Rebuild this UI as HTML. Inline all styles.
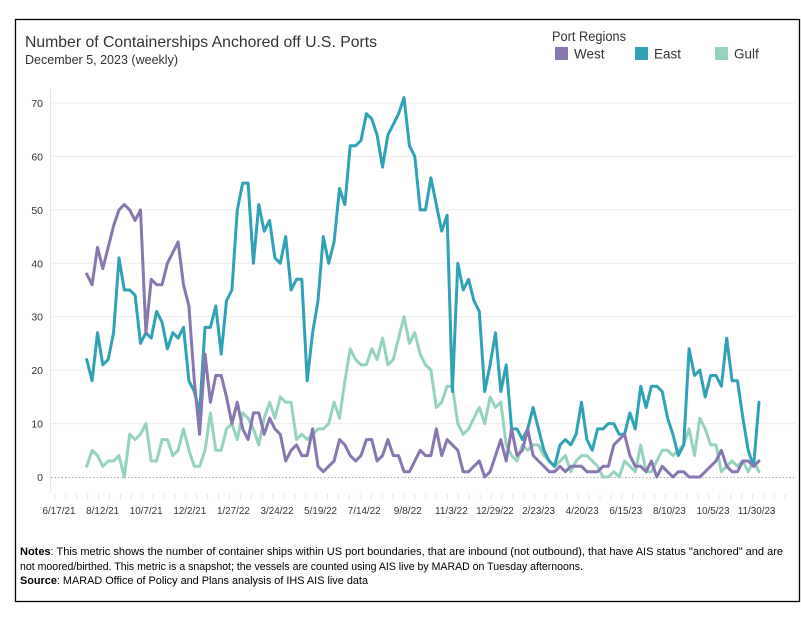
<!DOCTYPE html>
<html><head><meta charset="utf-8"><style>
body{margin:0;background:#fff;width:801px;height:614px;overflow:hidden;font-family:"Liberation Sans",sans-serif;}
svg text{font-family:"Liberation Sans",sans-serif;}
</style></head><body>
<svg id="chart" width="801" height="614">
<rect x="15.5" y="19.5" width="784" height="582" fill="#fff" stroke="#000" stroke-width="1.3"/>
<text x="25" y="47" font-size="16" fill="#333" textLength="352" lengthAdjust="spacingAndGlyphs">Number of Containerships Anchored off U.S. Ports</text>
<text x="25" y="64" font-size="12.5" fill="#333" textLength="153" lengthAdjust="spacingAndGlyphs">December 5, 2023 (weekly)</text>
<text x="552" y="41" font-size="13.5" fill="#333" textLength="74" lengthAdjust="spacingAndGlyphs">Port Regions</text>
<g><rect x="555" y="47" width="13" height="13" fill="#8777b0"/><text x="574" y="58.5" font-size="13.5" fill="#333">West</text></g>
<g><rect x="635" y="47" width="13" height="13" fill="#2fa2b5"/><text x="654" y="58.5" font-size="13.5" fill="#333">East</text></g>
<g><rect x="715" y="47" width="13" height="13" fill="#95d3c0"/><text x="734" y="58.5" font-size="13.5" fill="#333">Gulf</text></g>
<g id="grid"></g>
<g id="yax"></g>
<g id="xax"></g>
<g id="series"></g>
<text x="20" y="555" font-size="11" fill="#000" textLength="763" lengthAdjust="spacingAndGlyphs"><tspan font-weight="bold">Notes</tspan>: This metric shows the number of container ships within US port boundaries, that are inbound (not outbound), that have AIS status "anchored" and are</text>
<text x="20" y="570" font-size="11" fill="#000" textLength="563" lengthAdjust="spacingAndGlyphs">not moored/birthed. This metric is a snapshot; the vessels are counted using AIS live by MARAD on Tuesday afternoons.</text>
<text x="20" y="584" font-size="11" fill="#000" textLength="348" lengthAdjust="spacingAndGlyphs"><tspan font-weight="bold">Source</tspan>: MARAD Office of Policy and Plans analysis of IHS AIS live data</text>
</svg>
<script>
const westValues=[38,36,43,39,43,47,50,51,50,48,50,27,37,36,36,40,42,44,36,32,18,8,23,14,19,19,15,10,14,9,7,
12,12,8,11,9,8,3,5,6,4,4,9,2,1,2,3,7,6,4,3,4,7,7,3,4,7,4,4,1,1,3,5,4,4,9,4,7,
6,5,1,1,2,3,0,1,4,7,3,9,4,5,9,4,3,2,1,1,2,1,2,2,2,1,1,1,2,2,6,7,8,4,2,2,
1,3,0,2,1,0,1,1,0,0,0,1,2,3,5,2,1,1,3,3,2,3];
const eastValues=[22,18,27,21,22,27,41,35,35,34,25,27,26,31,29,24,27,26,28,18,16,12,28,28,32,23,33,35,50,55,55,
40,51,46,48,41,40,45,35,37,37,18,27,33,45,40,44,54,51,62,62,63,68,67,64,58,64,66,68,71,62,60,50,50,56,51,46,49,
16,40,35,37,33,31,16,21,27,16,21,9,9,7,9,13,9,5,3,2,6,7,6,8,14,7,5,9,9,10,10,8,8,12,9,17,
13,17,17,16,11,8,4,6,24,19,20,15,19,19,17,26,18,18,11,5,2,14];
const gulfValues=[2,5,4,2,3,3,4,0,8,7,8,10,3,3,7,7,4,5,9,5,2,2,5,12,5,5,9,10,7,12,11,
9,6,11,14,11,15,14,14,7,8,7,8,9,9,10,14,11,18,24,22,21,21,24,22,26,21,22,26,30,25,27,23,21,20,13,14,17,
17,10,8,9,11,13,10,15,13,14,6,4,3,6,5,6,6,4,3,2,3,4,1,3,4,4,3,2,0,0,1,0,3,2,1,6,
1,1,3,5,5,4,5,6,9,4,11,9,6,6,1,2,3,2,3,1,3,1];
const yTicks=[0,10,20,30,40,50,60,70];
const xTickLabels=["6/17/21","8/12/21","10/7/21","12/2/21","1/27/22","3/24/22","5/19/22","7/14/22","9/8/22","11/3/22","12/29/22","2/23/23","4/20/23","6/15/23","8/10/23","10/5/23","11/30/23"];
const seriesNames=["west","east","gulf"];
const seriesColors=["#8777b0","#2fa2b5","#95d3c0"];

const NS="http://www.w3.org/2000/svg";
const N=eastValues.length;
function xs(i){return 86.7+(759-86.7)*i/(N-1);}
function ys(v){return 477-v*5.343;}
function mk(tag,attrs,parent){const e=document.createElementNS(NS,tag);for(const k in attrs)e.setAttribute(k,attrs[k]);parent.appendChild(e);return e;}
const grid=document.getElementById('grid'),yax=document.getElementById('yax'),xax=document.getElementById('xax'),ser=document.getElementById('series');
mk('line',{x1:50.5,x2:50.5,y1:88,y2:492,stroke:'#e6e6e6','stroke-width':1},grid);
yTicks.forEach(t=>{
  if(t>0){const g=mk('line',{x1:51,x2:795,y1:ys(t),y2:ys(t),stroke:'#ececec','stroke-width':1},grid);
  
  }
  const l=mk('text',{x:43,y:ys(t)+4,'font-size':10.5,'text-anchor':'end',fill:'#333'},yax);
  l.textContent=t;
  
  
});
const base=mk('line',{x1:51,x2:795,y1:477.5,y2:477.5,stroke:'#aaa','stroke-width':1,'stroke-dasharray':'1.5,2'},grid);


for(let x=55;x<795;x+=10.9){mk('line',{x1:x,x2:x,y1:494,y2:499,stroke:'#e3e3e3','stroke-width':1},xax);}
xTickLabels.forEach((t,k)=>{
  const w=t.length*4.7;
  const l=mk('text',{x:59+43.6*k,y:514,'font-size':10.5,'text-anchor':'middle',fill:'#333',textLength:w,lengthAdjust:'spacingAndGlyphs'},xax);
  l.textContent=t;
  
  
});
const order=[2,1,0];
const all=[westValues,eastValues,gulfValues];
order.forEach(s=>{
  const d=all[s].map((v,i)=>(i?'L':'M')+xs(i).toFixed(1)+','+ys(v).toFixed(1)).join('');
  const p=mk('path',{d:d,fill:'none',stroke:seriesColors[s],'stroke-width':3,'stroke-linejoin':'round','stroke-linecap':'round'},ser);
  
  
});
</script>
</body></html>
